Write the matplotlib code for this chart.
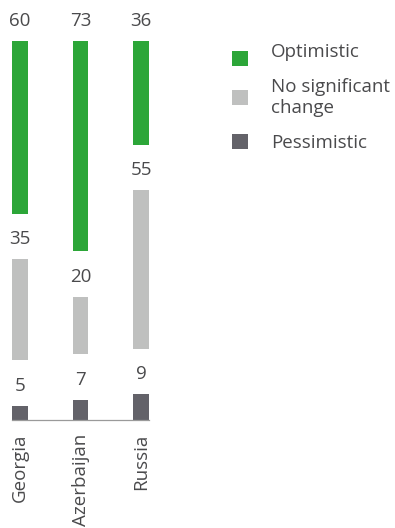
import matplotlib
matplotlib.use("Agg")
import matplotlib.pyplot as plt
from matplotlib.patches import Rectangle

plt.rcParams['font.family'] = ['Open Sans', 'DejaVu Sans']

countries = ["Georgia", "Azerbaijan", "Russia"]
pessimistic = [5, 7, 9]
no_change = [35, 20, 55]
optimistic = [60, 73, 36]

GREEN, LIGHT, DARK = "#2ca638", "#bfc0bf", "#636269"
series = [
    ("Pessimistic", pessimistic, DARK),
    ("No significant\nchange", no_change, LIGHT),
    ("Optimistic", optimistic, GREEN),
]

GAP = 15.8          # vertical room between segments, holds the value labels
BAR_W = 0.264
TEXT_C = "#4a4a4c"
FS = 13.5

W, H = 395, 528
fig = plt.figure(figsize=(W / 100, H / 100), dpi=100)
ax = fig.add_axes([12 / W, (H - 420) / H, 137 / W, 379 / H])

x = list(range(len(countries)))
bottom = [0.0] * len(countries)
for name, vals, color in series:
    ax.bar(x, vals, width=BAR_W, bottom=bottom, color=color, linewidth=0)
    for xi, v, b in zip(x, vals, bottom):
        ax.annotate(str(v), (xi, b + v), xytext=(0, 10.8), textcoords="offset points",
                    ha="center", va="baseline", fontsize=FS, color=TEXT_C,
                    annotation_clip=False)
    bottom = [b + v + GAP for b, v in zip(bottom, vals)]

ax.set_xlim(-0.132, 2.132)
ax.set_ylim(0, 100 + 2 * GAP)
ax.set_xticks(x)
ax.set_xticklabels(countries, rotation=90, fontsize=FS, color=TEXT_C, va="top")
ax.tick_params(axis="x", length=0, pad=10)
ax.set_yticks([])
for s in ("left", "right", "top"):
    ax.spines[s].set_visible(False)
ax.spines["bottom"].set_color("#9a9a9a")
ax.spines["bottom"].set_linewidth(0.9)
ax.patch.set_visible(False)

# legend: square top (px) and last-line baseline (px), top entry first
legend_rows = [("Optimistic", GREEN, 51, 57),
               ("No significant\nchange", LIGHT, 90, 113),
               ("Pessimistic", DARK, 134, 148)]
for label, color, sq_top, base in legend_rows:
    fig.add_artist(Rectangle((232 / W, (H - sq_top - 15) / H), 16 / W, 15 / H,
                             transform=fig.transFigure, color=color, linewidth=0))
    fig.text(271 / W, (H - base) / H, label, fontsize=FS, color=TEXT_C,
             ha="left", va="baseline", linespacing=1.25)

fig.savefig("out.png", dpi=100)
